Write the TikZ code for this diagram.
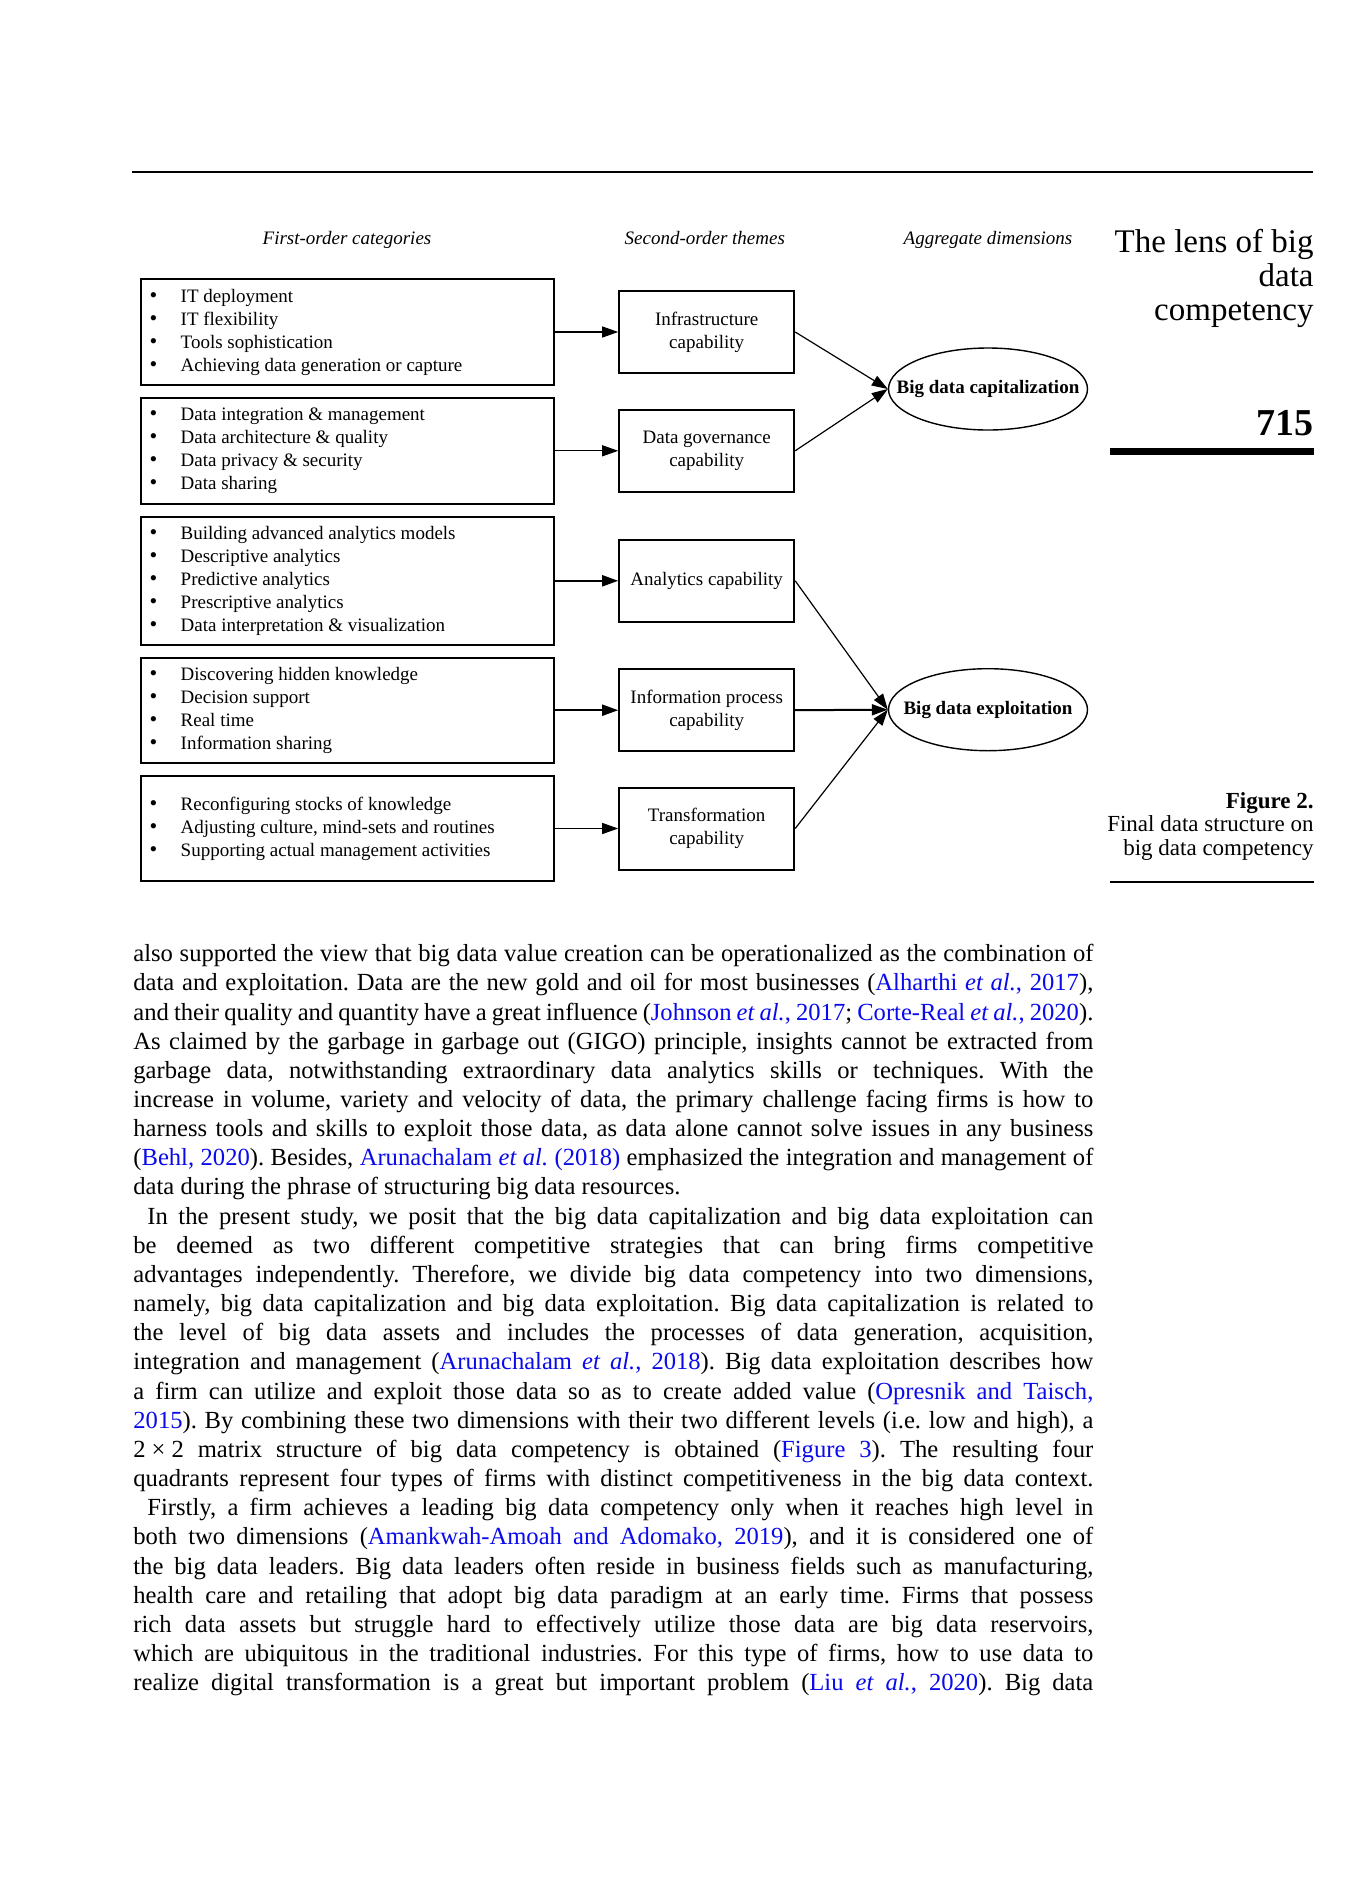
\documentclass[tikz,border=0pt]{standalone}
\usepackage{fontspec}
\setmainfont{Liberation Serif}
\usepackage{tikz}
\usetikzlibrary{arrows.meta,positioning,shapes.geometric}
\usepackage{xcolor}
\definecolor{linkblue}{RGB}{10,10,235}
\frenchspacing
\newcommand{\lnk}[1]{\textcolor{linkblue}{#1}}
\newcommand{\catitem}[1]{\makebox[15.6pt][l]{\fontsize{11}{11.5}\selectfont\textbullet}#1}
\newcommand{\dimtext}[1]{\makebox[0pt]{#1}}
\newcommand{\bodyline}[1]{\makebox[480pt][s]{#1}}

\begin{document}
\begin{tikzpicture}[->,>={Triangle[length=8pt,width=5.5pt]},x=0.5pt,y=-0.5pt,
                    node distance=31.65pt]
  \tikzstyle{category}=[draw,line width=1pt,inner xsep=4.2pt,inner ysep=0pt,text width=198pt,align=justify,font=\fontsize{9.5}{11.5}\selectfont]
  \tikzstyle{theme}=[draw,line width=1pt,minimum width=87.5pt,minimum height=41pt,inner sep=0pt,align=center,font=\fontsize{9.5}{11.5}\selectfont]
  \tikzstyle{dimension}=[ellipse,draw,line width=0.7pt,minimum width=99.5pt,minimum height=41pt,inner sep=0pt,font=\fontsize{9.5}{11.5}\selectfont\bfseries]
  \tikzstyle{heading}=[anchor=base,inner sep=0pt,font=\fontsize{9.5}{11.5}\selectfont\itshape]
  \tikzstyle{side}=[anchor=base east,inner sep=0pt,align=right]
  \tikzstyle{bodytext}=[anchor=base west,inner sep=0pt,text width=480pt,align=justify,font=\fontsize{12.3}{14.58}\selectfont]
  \tikzstyle{light}=[line width=0.6pt]
  \tikzstyle{heavy}=[line width=1pt]

  \useasboundingbox[-,fill=white] (0,0) rectangle (1371,1890);

  % page rules
  \draw[-,line width=0.75pt] (132,172) -- (1313,172);
  \fill (1110,448) rectangle (1314,455);
  \draw[-,line width=1pt] (1110,881.7) -- (1314,881.7);

  % column headings
  \node[heading] (hfirst)  at (347,244)   {First-order categories};
  \node[heading] (hsecond) at (704.8,244) {Second-order themes};
  \node[heading] (hagg)    at (988,244)   {Aggregate dimensions};

  % first-order categories
  \node[category,minimum height=53pt] (infraitems) at (347.5,332)
    {\catitem{IT deployment}\\\catitem{IT flexibility}\\\catitem{Tools sophistication}\\\catitem{Achieving data generation or capture}};
  \node[category,minimum height=53pt] (govitems) at (347.5,450.8)
    {\catitem{Data integration \& management}\\\catitem{Data architecture \& quality}\\\catitem{Data privacy \& security}\\\catitem{Data sharing}};
  \node[category,minimum height=64pt] (analitems) at (347.5,580.8)
    {\catitem{Building advanced analytics models}\\\catitem{Descriptive analytics}\\\catitem{Predictive analytics}\\\catitem{Prescriptive analytics}\\\catitem{Data interpretation \& visualization}};
  \node[category,minimum height=52.5pt] (infoitems) at (347.5,710.2)
    {\catitem{Discovering hidden knowledge}\\\catitem{Decision support}\\\catitem{Real time}\\\catitem{Information sharing}};
  \node[category,minimum height=52.5pt] (transitems) at (347.5,828.5)
    {\catitem{Reconfiguring stocks of knowledge}\\\catitem{Adjusting culture, mind-sets and routines}\\\catitem{Supporting actual management activities}};

  % second-order themes
  \node[theme] (infra) [right=of infraitems] {Infrastructure\\capability};
  \node[theme] (gov)   [right=of govitems]   {Data governance\\capability};
  \node[theme] (anal)  [right=of analitems]  {Analytics capability};
  \node[theme] (info)  [right=of infoitems]  {Information process\\capability};
  \node[theme] (trans) [right=of transitems] {Transformation\\capability};

  % aggregate dimensions
  \node[dimension] (cap)  at (988,389)   {\dimtext{Big data capitalization}};
  \node[dimension] (expl) at (988,709.7) {\dimtext{Big data exploitation}};

  \path (infraitems) edge[light] (infra)
        (govitems)   edge[light] (gov)
        (analitems)  edge[heavy] (anal)
        (infoitems)  edge[heavy] (info)
        (transitems) edge[light] (trans)
        (infra.east) edge[light] (cap.west)
        (gov.east)   edge[light] (cap.west)
        (anal.east)  edge[light] (expl.west)
        (info.east)  edge[heavy] (expl.west)
        (trans.east) edge[light] (expl.west);

  % margin texts
  \node[side,font=\fontsize{16.5}{17}\selectfont] (lens) at (1314,320) {The lens of big\\data\\competency};
  \node[side,font=\fontsize{19}{19}\selectfont\bfseries] (page) at (1314,435) {715};
  \node[side,font=\fontsize{11.5}{11.75}\selectfont] (caption) at (1314,855)
    {\textbf{Figure 2.}\\Final data structure on\\big data competency};

  % running text
  \node[bodytext] (body) at (133,961.7) {%
    \bodyline{also supported the view that big data value creation can be operationalized as the combination of}\\
    \bodyline{data and exploitation. Data are the new gold and oil for most businesses (\lnk{Alharthi \textit{et al.}, 2017}),}\\
    \bodyline{and their quality and quantity have a great influence (\lnk{Johnson \textit{et al.}, 2017}; \lnk{Corte-Real \textit{et al.}, 2020}).}\\
    \bodyline{As claimed by the garbage in garbage out (GIGO) principle, insights cannot be extracted from}\\
    \bodyline{garbage data, notwithstanding extraordinary data analytics skills or techniques. With the}\\
    \bodyline{increase in volume, variety and velocity of data, the primary challenge facing firms is how to}\\
    \bodyline{harness tools and skills to exploit those data, as data alone cannot solve issues in any business}\\
    \bodyline{(\lnk{Behl, 2020}). Besides, \lnk{Arunachalam \textit{et al.} (2018)} emphasized the integration and management of}\\
    data during the phrase of structuring big data resources.\\
    \bodyline{\hspace*{7pt}In the present study, we posit that the big data capitalization and big data exploitation can}\\
    \bodyline{be deemed as two different competitive strategies that can bring firms competitive}\\
    \bodyline{advantages independently. Therefore, we divide big data competency into two dimensions,}\\
    \bodyline{namely, big data capitalization and big data exploitation. Big data capitalization is related to}\\
    \bodyline{the level of big data assets and includes the processes of data generation, acquisition,}\\
    \bodyline{integration and management (\lnk{Arunachalam \textit{et al.}, 2018}). Big data exploitation describes how}\\
    \bodyline{a firm can utilize and exploit those data so as to create added value (\lnk{Opresnik and Taisch,}}\\
    \bodyline{\lnk{2015}). By combining these two dimensions with their two different levels (i.e. low and high), a}\\
    \bodyline{2\kern3pt×\kern3pt2 matrix structure of big data competency is obtained (\lnk{Figure 3}). The resulting four}\\
    \bodyline{quadrants represent four types of firms with distinct competitiveness in the big data context.}\\
    \bodyline{\hspace*{7pt}Firstly, a firm achieves a leading big data competency only when it reaches high level in}\\
    \bodyline{both two dimensions (\lnk{Amankwah-Amoah and Adomako, 2019}), and it is considered one of}\\
    \bodyline{the big data leaders. Big data leaders often reside in business fields such as manufacturing,}\\
    \bodyline{health care and retailing that adopt big data paradigm at an early time. Firms that possess}\\
    \bodyline{rich data assets but struggle hard to effectively utilize those data are big data reservoirs,}\\
    \bodyline{which are ubiquitous in the traditional industries. For this type of firms, how to use data to}\\
    \bodyline{realize digital transformation is a great but important problem (\lnk{Liu \textit{et al.}, 2020}). Big data}};
\end{tikzpicture}
\end{document}
